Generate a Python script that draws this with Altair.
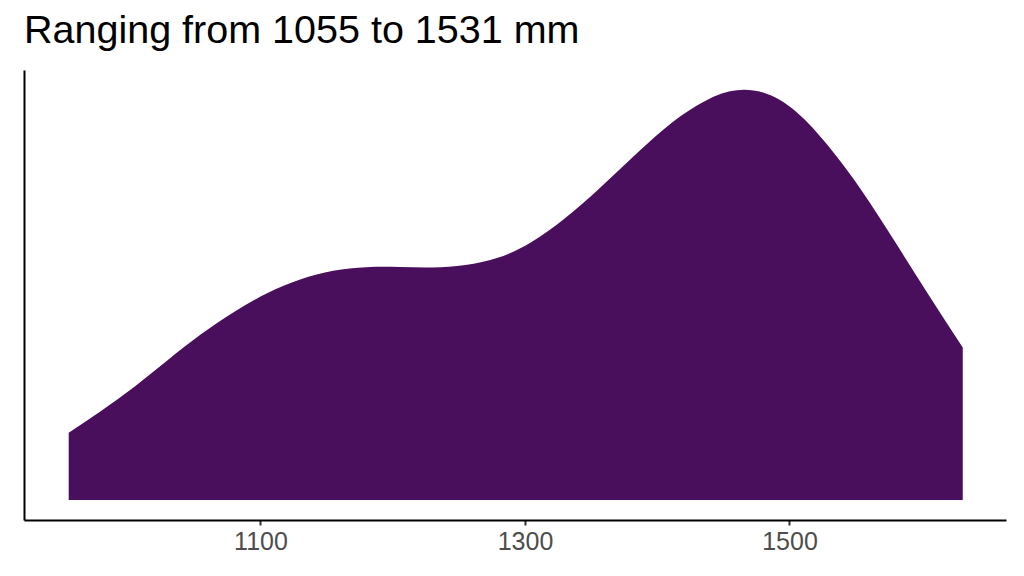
import altair as alt
import pandas as pd

# Kernel density of the rainfall values (mm)
rain_mm = [955, 980, 1005, 1030, 1055, 1080, 1105, 1130, 1155, 1180, 1205,
           1230, 1255, 1280, 1305, 1330, 1355, 1380, 1405, 1430, 1455,
           1480, 1505, 1530, 1555, 1580, 1605, 1631]
density = [0.673, 0.896, 1.136, 1.400, 1.657, 1.880, 2.067, 2.205, 2.292,
           2.328, 2.330, 2.326, 2.350, 2.424, 2.580, 2.814, 3.100, 3.410,
           3.708, 3.944, 4.087, 4.074, 3.883, 3.529, 3.085, 2.577, 2.056,
           1.525]
tick_values = [1100, 1300, 1500]
title_text = "Ranging from 1055 to 1531 mm"

df = pd.DataFrame({"rain": rain_mm, "density": density})

chart = alt.Chart(df).mark_area(
    color="#490E5C", interpolate="natural", opacity=1
).encode(
    x=alt.X("rain:Q",
            scale=alt.Scale(domain=[921.2, 1663.7], nice=False, zero=False),
            axis=alt.Axis(values=tick_values, format="d", title=None,
                          grid=False, domainColor="black", domainWidth=2,
                          tickColor="#333333", tickWidth=2, tickSize=5,
                          labelColor="#4D4D4D", labelFontSize=25,
                          labelFont="Liberation Sans", labelPadding=4)),
    y=alt.Y("density:Q",
            scale=alt.Scale(domain=[-0.2, 4.3], nice=False, zero=False),
            axis=alt.Axis(title=None, grid=False, labels=False, ticks=False,
                          domainColor="black", domainWidth=2)),
).properties(
    width=982, height=450,
    title=alt.TitleParams(title_text, anchor="start", frame="group",
                          font="Liberation Sans", fontSize=39.5,
                          fontWeight="normal", color="black",
                          baseline="alphabetic", offset=26, dy=38),
    autosize=alt.AutoSizeParams(type="none"),
    padding={"left": 16, "top": 62, "right": 10, "bottom": 48},
).configure_view(stroke=None)

chart.save("out.html", embed_options={"renderer": "svg", "actions": False})
